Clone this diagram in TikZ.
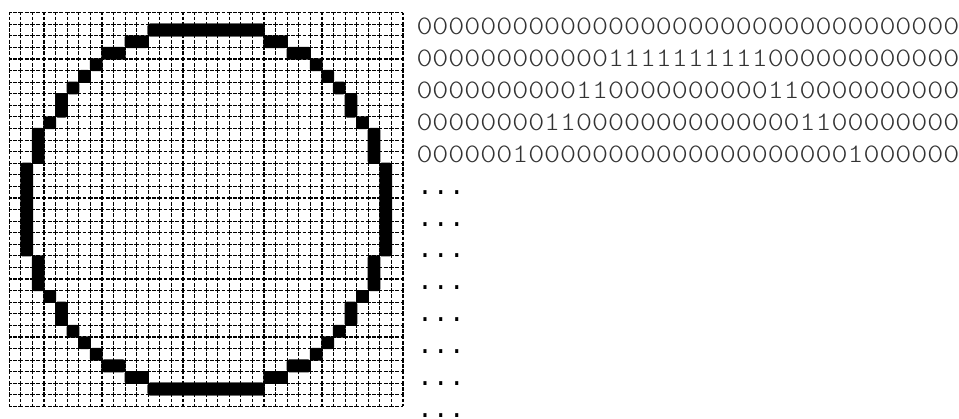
\documentclass[tikz,border=0pt]{standalone}
\usepackage{fontspec}
\newfontfamily\bitmono[FakeStretch=1.139]{lmmonolt10-regular.otf}
\newfontfamily\dotmono{Liberation Mono}
\begin{document}
\begin{tikzpicture}[x=1pt,y=-1pt,
  gridline/.style={draw=black,line width=1.15pt,dash pattern=on 4.9pt off 1.4pt on 3.8pt off 1.48pt,dash phase=2.45pt},
  blob/.style={fill=black,rounded corners=2.5pt},
  txt/.style={anchor=base west,inner sep=0pt,outer sep=0pt,text=black!80,font=\bitmono\fontsize{26.7}{26.7}\selectfont},
  dotstxt/.style={anchor=base west,inner sep=0pt,outer sep=0pt,text=black,font=\dotmono\fontsize{26.58}{26.58}\selectfont}]
\useasboundingbox (0,0) rectangle (959,419);
\pgfmathsetmacro\gx{9.3}
\pgfmathsetmacro\gy{12.7}
\pgfmathsetmacro\cs{11.58}
% grid
\foreach \i in {0,...,34} {
  \draw[gridline] ({\gx+\i*\cs},{\gy}) -- ({\gx+\i*\cs},{\gy+34*\cs});
  \draw[gridline] ({\gx},{\gy+\i*\cs}) -- ({\gx+34*\cs},{\gy+\i*\cs});
}
% rasterised circle (left half listed, mirrored)
\foreach \ra/\rb/\ca/\cb in {1/1/12/21,2/2/10/11,3/3/8/9,4/4/7/7,5/5/6/6,6/6/5/5,7/8/4/4,9/9/3/3,10/12/2/2,13/20/1/1,21/23/2/2,24/24/3/3,25/26/4/4,27/27/5/5,28/28/6/6,29/29/7/7,30/30/8/9,31/31/10/11,32/32/12/21} {
  \fill[blob] ({\gx+\ca*\cs-0.6},{\gy+\ra*\cs-0.6}) rectangle ({\gx+(\cb+1)*\cs+0.6},{\gy+(\rb+1)*\cs+0.6});
  \fill[blob] ({\gx+(33-\cb)*\cs-0.6},{\gy+\ra*\cs-0.6}) rectangle ({\gx+(34-\ca)*\cs+0.6},{\gy+(\rb+1)*\cs+0.6});
}
% text rows
\node[txt] (row1) at (416.5,35) {0000000000000000000000000000000000};
\node[txt] (row2) at (416.5,66.85) {0000000000001111111111000000000000};
\node[txt] (row3) at (416.5,98.7) {0000000000110000000000110000000000};
\node[txt] (row4) at (416.5,130.55) {0000000011000000000000001100000000};
\node[txt] (row5) at (416.5,162.4) {0000001000000000000000000001000000};
\foreach \k in {5,...,12} {
  \node[dotstxt] (dots\k) at (417,{35+31.85*\k}) {...};
}
\end{tikzpicture}
\end{document}
